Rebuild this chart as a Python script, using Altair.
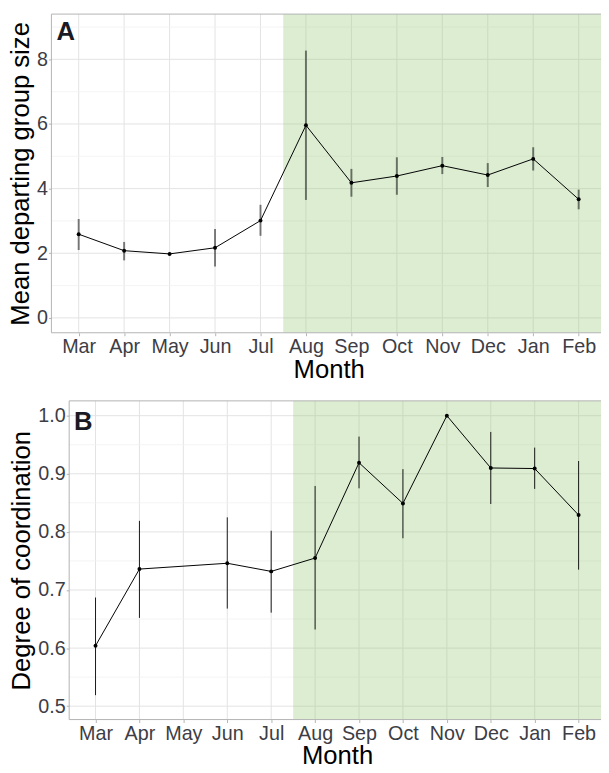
import altair as alt
import pandas as pd

months = ["Mar", "Apr", "May", "Jun", "Jul", "Aug", "Sep", "Oct", "Nov", "Dec", "Jan", "Feb"]

# Panel A: mean departing group size
a_mean = [2.59, 2.08, 1.98, 2.17, 3.01, 5.96, 4.18, 4.39, 4.71, 4.42, 4.92, 3.67]
a_low = [2.10, 1.78, 1.98, 1.59, 2.54, 3.65, 3.75, 3.81, 4.45, 4.05, 4.56, 3.36]
a_high = [3.06, 2.35, 1.98, 2.75, 3.50, 8.27, 4.61, 4.97, 4.98, 4.79, 5.28, 3.97]

# Panel B: degree of coordination (no data for May)
b_months = ["Mar", "Apr", "Jun", "Jul", "Aug", "Sep", "Oct", "Nov", "Dec", "Jan", "Feb"]
b_mean = [0.604, 0.736, 0.746, 0.732, 0.755, 0.919, 0.849, 1.000, 0.910, 0.909, 0.829]
b_low = [0.519, 0.652, 0.668, 0.661, 0.632, 0.875, 0.789, 1.000, 0.848, 0.874, 0.735]
b_high = [0.687, 0.819, 0.825, 0.802, 0.879, 0.964, 0.908, 1.000, 0.972, 0.945, 0.922]

a_major = [0, 2, 4, 6, 8]
a_minor = [1, 3, 5, 7, 9]
b_major = [0.5, 0.6, 0.7, 0.8, 0.9, 1.0]
b_minor = [0.55, 0.65, 0.75, 0.85, 0.95]

season_start = 4.5  # boundary between Jul and Aug
x_domain = [-0.6, 11.6]
a_ydomain = [-0.46, 9.40]
b_ydomain = [0.477, 1.0255]

# ---- layout (pixels inside the chart) ----
W, H = 601, 765
A_X = [44, 606]
A_Y = [324, 1]
B_X = [62, 605]
B_Y = [716, 393]

FONT = "Liberation Sans"
LABEL_EXPR = "[" + ",".join("'%s'" % m for m in months) + "][datum.value]"
GRID = "#e3e3e3"
MINOR = "#f1f1f1"
BORDER = "#b3b3b3"


def panel(df, ytitle, ydomain, major, minor, fmt, letter, letter_xy, xr, yr, err_style):
    xs = alt.Scale(domain=x_domain, range=xr, nice=False, zero=False)
    ys = alt.Scale(domain=ydomain, range=yr, nice=False, zero=False)
    xa = alt.Axis(values=list(range(12)), labelExpr=LABEL_EXPR, title="Month",
                  orient="bottom", offset=-(H - yr[0]), grid=False,
                  titlePadding=0)
    ya = alt.Axis(values=major, format=fmt, title=ytitle, orient="left",
                  offset=-xr[0], grid=False, titlePadding=3)

    def X(f):
        return alt.X(f, scale=xs, axis=xa)

    def Y(f):
        return alt.Y(f, scale=ys, axis=ya)

    # vertical grid (one per month)
    vg = pd.DataFrame({"idx": list(range(12)), "y0": ydomain[0], "y1": ydomain[1]})
    vgrid = alt.Chart(vg).mark_rule(color=GRID, strokeWidth=1).encode(
        x=X("idx:Q"), y=Y("y0:Q"), y2="y1:Q",
    )
    hg_min = pd.DataFrame({"v": minor, "x0": x_domain[0], "x1": x_domain[1]})
    hgrid_min = alt.Chart(hg_min).mark_rule(color=MINOR, strokeWidth=0.8).encode(
        x=X("x0:Q"), x2="x1:Q", y=Y("v:Q"),
    )
    hg_maj = pd.DataFrame({"v": major, "x0": x_domain[0], "x1": x_domain[1]})
    hgrid_maj = alt.Chart(hg_maj).mark_rule(color=GRID, strokeWidth=1).encode(
        x=X("x0:Q"), x2="x1:Q", y=Y("v:Q"),
    )

    box = pd.DataFrame({"x0": [x_domain[0]], "x1": [x_domain[1]],
                        "y0": [ydomain[0]], "y1": [ydomain[1]]})
    season = pd.DataFrame({"x0": [season_start], "x1": [x_domain[1]],
                           "y0": [ydomain[0]], "y1": [ydomain[1]]})
    rect = alt.Chart(season).mark_rect(color="#96c878", opacity=0.333).encode(
        x=X("x0:Q"), x2="x1:Q", y=Y("y0:Q"), y2="y1:Q",
    )
    border = alt.Chart(box).mark_rect(fillOpacity=0, stroke=BORDER, strokeWidth=1).encode(
        x=X("x0:Q"), x2="x1:Q", y=Y("y0:Q"), y2="y1:Q",
    )

    base = alt.Chart(df)
    err = base.mark_rule(**err_style).encode(x=X("idx:Q"), y=Y("low:Q"), y2="high:Q")
    line = base.mark_line(color="black", strokeWidth=1).encode(x=X("idx:Q"), y=Y("mean:Q"))
    pts = base.mark_circle(color="black", size=16, opacity=1).encode(
        x=X("idx:Q"), y=Y("mean:Q"))

    lab_df = pd.DataFrame({"x": [letter_xy[0]], "y": [letter_xy[1]], "t": [letter]})
    lab = alt.Chart(lab_df).mark_text(
        font=FONT, fontSize=26, fontWeight="bold", align="left", baseline="alphabetic",
        color="#1a1a24",
    ).encode(x=X("x:Q"), y=Y("y:Q"), text="t:N")

    return alt.layer(vgrid, hgrid_min, hgrid_maj, rect, err, line, pts, border, lab)


df_a = pd.DataFrame({"idx": list(range(12)), "mean": a_mean, "low": a_low, "high": a_high})
df_b = pd.DataFrame({"idx": [months.index(m) for m in b_months],
                     "mean": b_mean, "low": b_low, "high": b_high})

pa = panel(df_a, "Mean departing group size", a_ydomain, a_major, a_minor, "d",
           "A", (-0.49, 8.61), A_X, A_Y,
           dict(color="black", strokeWidth=2, opacity=0.5))
pb = panel(df_b, "Degree of coordination", b_ydomain, b_major, b_minor, ".1f",
           "B", (-0.49, 0.976), B_X, B_Y,
           dict(color="black", strokeWidth=1, opacity=0.9))

chart = alt.layer(pa, pb).resolve_scale(
    x="independent", y="independent"
).resolve_axis(
    x="independent", y="independent"
).properties(
    width=W, height=H, padding=0,
    autosize=alt.AutoSizeParams(type="none"),
).configure_view(
    stroke=None
).configure_axis(
    labelFont=FONT, titleFont=FONT,
    labelFontSize=20, titleFontSize=26,
    labelColor="#3d3d45", titleColor="black", titleFontWeight="normal",
    domain=False, tickColor=BORDER, tickSize=3, labelPadding=1,
)

chart.save("out.html", embed_options={"renderer": "svg", "actions": False})
